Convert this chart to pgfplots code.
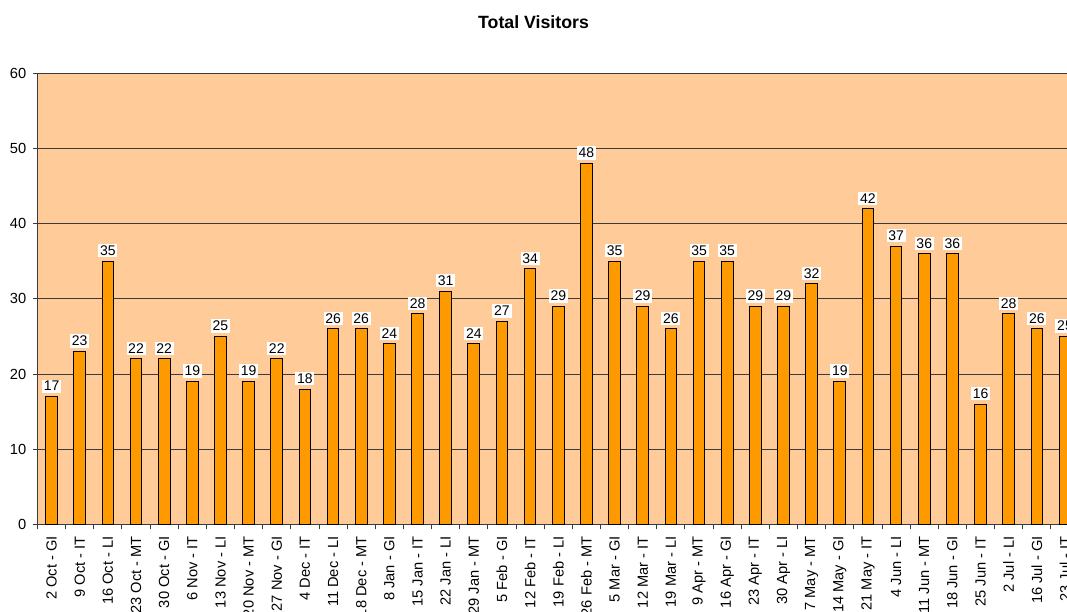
\documentclass[border=0pt]{standalone}
\usepackage{fontspec}
\setmainfont{Liberation Sans}
\usepackage{pgfplots}
\pgfplotsset{compat=1.18}
\usepackage{pgfplotstable}
\definecolor{bgpeach}{HTML}{FFCC99}
\definecolor{barorange}{HTML}{FF9900}
\definecolor{gridc}{HTML}{3A3A3A}
\pgfplotstableread{
idx val
0 17
1 23
2 35
3 22
4 22
5 19
6 25
7 19
8 22
9 18
10 26
11 26
12 24
13 28
14 31
15 24
16 27
17 34
18 29
19 48
20 35
21 29
22 26
23 35
24 35
25 29
26 29
27 32
28 19
29 42
30 37
31 36
32 36
33 16
34 28
35 26
36 25
}\visitors
\begin{document}
\begin{tikzpicture}
\begin{axis}[
  at={(0,0)}, anchor=south west,
  scale only axis,
  width=772.1pt, height=338.25pt,
  xmin=-0.5, xmax=36.07,
  ymin=0, ymax=60,
  ytick={0,10,...,60},
  xtick={0,...,36},
  xticklabels={2 Oct - GI, 9 Oct - IT, 16 Oct - LI, 23 Oct - MT, 30 Oct - GI, 6 Nov - IT, 13 Nov - LI, 20 Nov - MT, 27 Nov - GI, 4 Dec - IT, 11 Dec - LI, 18 Dec - MT, 8 Jan - GI, 15 Jan - IT, 22 Jan - LI, 29 Jan - MT, 5 Feb - GI, 12 Feb - IT, 19 Feb - LI, 26 Feb - MT, 5 Mar - GI, 12 Mar - IT, 19 Mar - LI, 9 Apr - MT, 16 Apr - GI, 23 Apr - IT, 30 Apr - LI, 7 May - MT, 14 May - GI, 21 May - IT, 4 Jun - LI, 11 Jun - MT, 18 Jun - GI, 25 Jun - IT, 2 Jul - LI, 16 Jul - GI, 23 Jul - IT},
  minor xtick={-0.5,0.5,...,36.5},
  axis x line*=bottom, axis y line*=left,
  x axis line style={-, draw=gridc, line width=0.75pt},
  y axis line style={-, draw=gridc, line width=0.75pt},
  tick align=outside,
  major x tick style={draw=none},
  minor x tick style={draw=gridc, line width=0.75pt},
  y tick style={draw=gridc, line width=0.75pt},
  major tick length=3.5pt, minor tick length=3.75pt,
  ymajorgrids,
  grid style={draw=gridc, line width=0.7pt},
  axis background/.style={fill=bgpeach},
  /pgf/number format/assume math mode=true,
  ticklabel style={font=\fontsize{11}{13}\selectfont},
  xticklabel style={rotate=90, anchor=east, inner sep=1pt, xshift=-4.3pt},
  yticklabel style={anchor=east, inner sep=1pt, xshift=-3.8pt},
  title={\textbf{Total Visitors}},
  title style={at={(axis description cs:0.4818,1.095)}, anchor=center, font=\fontsize{13.3}{15}\selectfont},
  ybar, bar width=0.415,
  nodes near coords,
  every node near coord/.append style={fill=white, inner sep=1.3pt, yshift=2.5pt, font=\fontsize{10.5}{12}\selectfont, /pgf/number format/assume math mode=true},
]
\addplot[fill=barorange, draw=black, line width=0.75pt] table[x=idx, y=val] {\visitors};
\end{axis}
\pgfresetboundingbox
\useasboundingbox (-28.125pt,-65pt) rectangle (772.125pt,393.25pt);
\end{tikzpicture}
\end{document}
